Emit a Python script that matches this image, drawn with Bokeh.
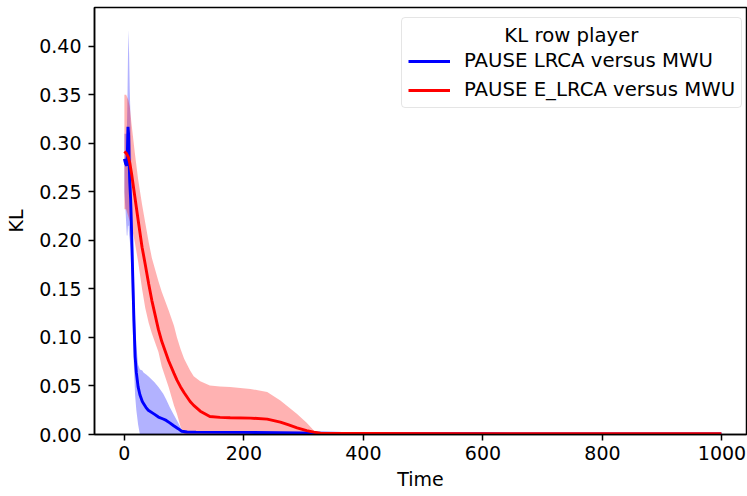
from bokeh.plotting import figure
from bokeh.models import (Legend, LegendItem, FixedTicker, PrintfTickFormatter,
                          Label, Range1d, ColumnDataSource)
from bokeh.embed import file_html
from bokeh.resources import INLINE

# ---------------- data ----------------
t_lrca = [0, 2, 4, 5, 6, 7, 8, 9, 10.5, 12, 14, 16, 18, 20, 23, 26, 30, 32, 36, 40,
          50, 57, 65, 70, 76, 82, 90, 96, 105, 120, 200, 300, 400, 600, 800, 999]
mean_lrca = [0.284, 0.279, 0.277, 0.290, 0.317, 0.310, 0.280, 0.260, 0.242, 0.210,
             0.163, 0.117, 0.080, 0.064, 0.049, 0.041, 0.034, 0.032, 0.028, 0.025,
             0.021, 0.018, 0.016, 0.0145, 0.012, 0.0093, 0.006, 0.0034, 0.0026, 0.0024,
             0.0022, 0.0015, 0.0008, 0.0007, 0.0006, 0.0006]
upper_lrca = [0.310, 0.310, 0.310, 0.340, 0.390, 0.417, 0.390, 0.355, 0.320, 0.260,
              0.210, 0.160, 0.120, 0.092, 0.072, 0.067, 0.066, 0.064, 0.062, 0.060,
              0.054, 0.049, 0.042, 0.036, 0.028, 0.021, 0.012, 0.005, 0.0032, 0.003,
              0.0026, 0.0018, 0.0010, 0.0009, 0.0008, 0.0008]
lower_lrca = [0.250, 0.230, 0.205, 0.205, 0.215, 0.215, 0.205, 0.200, 0.190, 0.155,
              0.110, 0.068, 0.040, 0.025, 0.010, 0.0, 0.0, 0.0, 0.0, 0.0,
              0.0, 0.0, 0.0, 0.0, 0.0, 0.0, 0.0, 0.0, 0.0, 0.0,
              0.0, 0.0, 0.0, 0.0, 0.0, 0.0]

t_elrca = [0, 3, 6.5, 9, 12, 17.5, 23, 29.6, 35, 40.7, 46, 57, 62.5, 74, 83, 88, 94,
           100, 110, 116, 127, 143, 160, 177, 211, 239, 261, 275, 289, 305, 317, 328,
           340, 400, 600, 800, 999]
mean_elrca = [0.2916, 0.290, 0.286, 0.280, 0.269, 0.245, 0.221, 0.193, 0.175, 0.155,
              0.138, 0.108, 0.096, 0.076, 0.063, 0.056, 0.049, 0.043, 0.034, 0.030,
              0.024, 0.0186, 0.0176, 0.0172, 0.0169, 0.0158, 0.0127, 0.0098, 0.0069,
              0.0040, 0.0024, 0.0013, 0.0010, 0.0010, 0.0009, 0.0008, 0.0008]
upper_elrca = [0.350, 0.350, 0.345, 0.338, 0.320, 0.290, 0.263, 0.237, 0.218, 0.198,
               0.182, 0.158, 0.147, 0.128, 0.112, 0.100, 0.088, 0.078, 0.066, 0.060,
               0.055, 0.0506, 0.0495, 0.049, 0.047, 0.0437, 0.035, 0.028, 0.021,
               0.012, 0.004, 0.0015, 0.0012, 0.0011, 0.0010, 0.0009, 0.0009]
lower_elrca = [0.232, 0.232, 0.225, 0.220, 0.215, 0.198, 0.178, 0.150, 0.130, 0.115,
               0.104, 0.085, 0.070, 0.049, 0.030, 0.021, 0.008, 0.0, 0.0, 0.0,
               0.0, 0.0, 0.0, 0.0, 0.0, 0.0, 0.0, 0.0, 0.0,
               0.0, 0.0, 0.0005, 0.0008, 0.0009, 0.0008, 0.0007, 0.0007]

x_ticks = [0, 200, 400, 600, 800, 1000]
y_ticks = [0.0, 0.05, 0.10, 0.15, 0.20, 0.25, 0.30, 0.35, 0.40]

labels = ["PAUSE LRCA versus MWU", "PAUSE E_LRCA versus MWU"]
legend_title = "KL row player"
x_label = "Time"
y_label = "KL"

# ---------------- figure ----------------
FONT = "DejaVu Sans"
FS = "19px"
LFS = "19.7px"

p = figure(width=747, height=496, output_backend="svg", toolbar_location=None,
           x_range=Range1d(-50, 1041), y_range=Range1d(0, 0.44),
           min_border_left=94, min_border_right=1, min_border_top=7,
           min_border_bottom=62)
p.background_fill_color = "white"
p.border_fill_color = "white"
p.outline_line_color = "black"
p.outline_line_width = 1.5
p.xgrid.visible = False
p.ygrid.visible = False

src_b = ColumnDataSource(dict(t=t_lrca, m=mean_lrca, lo=lower_lrca, hi=upper_lrca))
src_r = ColumnDataSource(dict(t=t_elrca, m=mean_elrca, lo=lower_elrca, hi=upper_elrca))

p.varea(x="t", y1="lo", y2="hi", source=src_b, fill_color="#0000ff", fill_alpha=0.3)
p.varea(x="t", y1="lo", y2="hi", source=src_r, fill_color="#ff0000", fill_alpha=0.3)
lb = p.line(x="t", y="m", source=src_b, line_color="#0000ff", line_width=2.9)
lr = p.line(x="t", y="m", source=src_r, line_color="#ff0000", line_width=2.9)

# axes
for ax in (p.xaxis[0], p.yaxis[0]):
    ax.axis_line_width = 1.5
    ax.axis_line_color = "black"
    ax.major_tick_line_width = 1.5
    ax.major_tick_line_color = "black"
    ax.major_tick_in = 0
    ax.major_tick_out = 6
    ax.minor_tick_line_color = None
    ax.major_label_text_font = FONT
    ax.major_label_text_font_size = FS
    ax.major_label_text_color = "black"
    ax.axis_label_text_font = FONT
    ax.axis_label_text_font_size = FS
    ax.axis_label_text_font_style = "normal"
    ax.axis_label_text_color = "black"

p.xaxis.ticker = FixedTicker(ticks=x_ticks)
p.yaxis.ticker = FixedTicker(ticks=y_ticks)
p.yaxis.formatter = PrintfTickFormatter(format="%.2f")
p.xaxis.axis_label = x_label
p.yaxis.axis_label = y_label
p.xaxis.major_label_standoff = 5
p.yaxis.major_label_standoff = 7
p.xaxis.axis_label_standoff = 5
p.yaxis.axis_label_standoff = 9

legend = Legend(items=[LegendItem(label=labels[0], renderers=[lb]),
                       LegendItem(label=labels[1], renderers=[lr])],
                location=(307, 326), title=" ")
legend.title_text_font = FONT
legend.title_text_font_size = LFS
legend.title_text_font_style = "normal"
legend.title_standoff = 2
legend.label_text_font = FONT
legend.label_text_font_size = LFS
legend.label_text_color = "black"
legend.glyph_width = 42
legend.glyph_height = 22
legend.label_height = 22
legend.label_standoff = 14
legend.spacing = 6
legend.padding = 6
legend.margin = 0
legend.border_line_color = "#cccccc"
legend.border_line_width = 1.2
legend.background_fill_alpha = 0
if "border_radius" in Legend.properties():
    legend.border_radius = 4
p.add_layout(legend)

title_lbl = Label(x=748, y=0.411, text=legend_title, text_align="center",
                  text_baseline="middle", text_font=FONT, text_font_size=LFS,
                  text_color="black", level="overlay")
p.add_layout(title_lbl)

open("out.html", "w").write(file_html(p, INLINE))
